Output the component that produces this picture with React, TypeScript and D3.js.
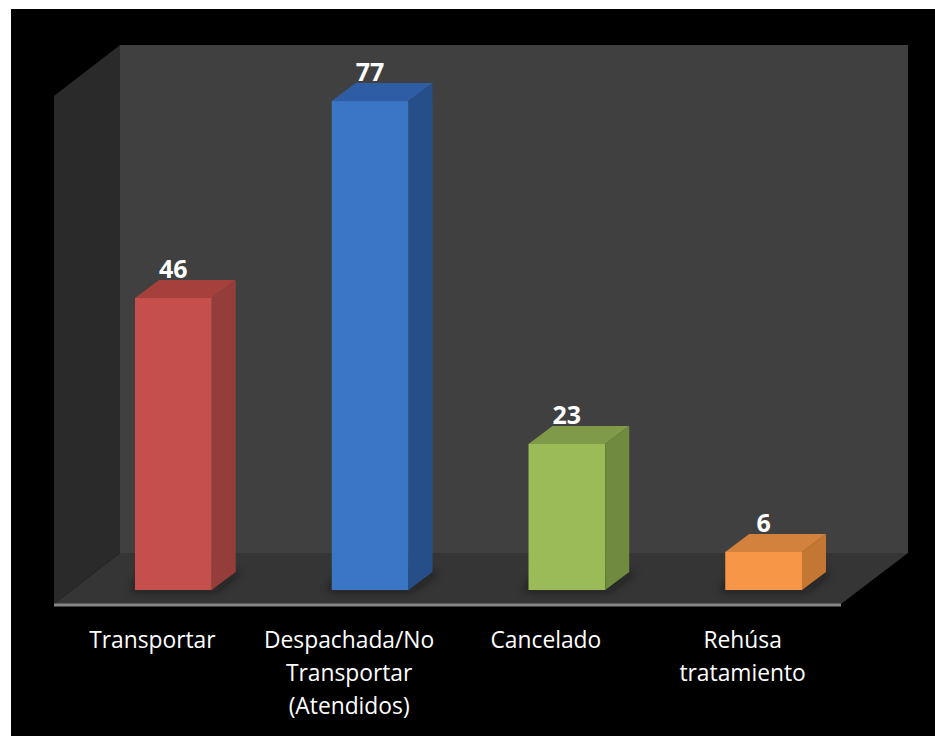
import * as d3 from 'd3';

const categories = ['Transportar', 'Despachada/No Transportar (Atendidos)', 'Cancelado', 'Rehúsa tratamiento'];
const categoryLines = [['Transportar'], ['Despachada/No', 'Transportar', '(Atendidos)'], ['Cancelado'], ['Rehúsa', 'tratamiento']];
const values = [46, 77, 23, 6];
const frontColors = ['#c5504d', '#3a76c4', '#9bbb59', '#f79646'];
const topColors = ['#a5403d', '#2f5da6', '#7f9a48', '#d2823c'];
const sideColors = ['#943d3a', '#27508a', '#708a40', '#c47732'];

const W = 935;
const H = 736;
const FONT = '"Open Sans", Lato, sans-serif';

// chart box in picture coordinates
const PLOT_L = 54;
const PLOT_R = 841;
const FLOOR_Y = 604;
const WALL_DX = 66;
const WALL_DY = 51;
const BAR_BASE = 590;
const BAR_OFFSET = 21;
const BAR_DX = 24;
const BAR_DY = 18;

const yScale = d3.scaleLinear().domain([0, 80]).range([BAR_BASE, 82]);
const wallTop = yScale(80) + (FLOOR_Y - BAR_BASE) - WALL_DY;

// bars sit part way back on the floor, labels stay on the front edge
const xBars = d3
  .scaleBand<string>()
  .domain(categories)
  .range([PLOT_L + BAR_OFFSET, PLOT_R + BAR_OFFSET])
  .paddingInner(0.61)
  .paddingOuter(0.305);
const xLabels = d3.scaleBand<string>().domain(categories).range([PLOT_L, PLOT_R]);

function poly(points: [number, number][]): string {
  return d3.line()(points)! + 'Z';
}

export default function App() {
  const sideTop = wallTop + WALL_DY;
  return (
    <svg
      width={W}
      height={H}
      viewBox={`0 0 ${W} ${H}`}
      style={{ position: 'absolute', left: 0, top: 0, display: 'block', background: '#fff' }}
    >
      <defs>
        <filter id="soft" x="-20%" y="-50%" width="140%" height="200%">
          <feGaussianBlur stdDeviation="5" />
        </filter>
        <filter id="edge" x="-5%" y="-5%" width="110%" height="110%">
          <feGaussianBlur stdDeviation="0.6" />
        </filter>
      </defs>
      <rect x={11} y={9} width={W - 11} height={H - 9} fill="#000" />

      {/* walls and floor */}
      <g filter="url(#edge)">
        <rect
          x={PLOT_L + WALL_DX}
          y={wallTop}
          width={PLOT_R - PLOT_L + 1}
          height={FLOOR_Y - WALL_DY - wallTop}
          fill="#404040"
        />
        <path
          d={poly([
            [PLOT_L, sideTop],
            [PLOT_L + WALL_DX, wallTop],
            [PLOT_L + WALL_DX, FLOOR_Y - WALL_DY],
            [PLOT_L, FLOOR_Y],
          ])}
          fill="#2b2b2b"
        />
        <path
          d={poly([
            [PLOT_L, FLOOR_Y],
            [PLOT_L + WALL_DX, FLOOR_Y - WALL_DY],
            [PLOT_R + WALL_DX + 1, FLOOR_Y - WALL_DY],
            [PLOT_R, FLOOR_Y],
          ])}
          fill="#343434"
        />
        <line x1={PLOT_L} x2={PLOT_R} y1={FLOOR_Y + 1} y2={FLOOR_Y + 1} stroke="#858585" strokeWidth={3} />
      </g>

      {/* bars */}
      {categories.map((c, i) => {
        const x0 = xBars(c)!;
        const x1 = x0 + xBars.bandwidth();
        const y0 = yScale(values[i]);
        return (
          <g key={c}>
            <path
              d={poly([
                [x0 - 6, BAR_BASE + 1],
                [x1 + 4, BAR_BASE + 1],
                [x1 + BAR_DX + 6, BAR_BASE - BAR_DY],
                [x0 + 10, BAR_BASE - BAR_DY],
              ])}
              fill="#111"
              opacity={0.55}
              filter="url(#soft)"
            />
            <g filter="url(#edge)">
              <rect x={x0} y={y0} width={x1 - x0} height={BAR_BASE - y0} fill={frontColors[i]} />
              <path
                d={poly([
                  [x0, y0],
                  [x0 + BAR_DX, y0 - BAR_DY],
                  [x1 + BAR_DX, y0 - BAR_DY],
                  [x1, y0],
                ])}
                fill={topColors[i]}
              />
              <path
                d={poly([
                  [x1, y0],
                  [x1 + BAR_DX, y0 - BAR_DY],
                  [x1 + BAR_DX, BAR_BASE - BAR_DY],
                  [x1, BAR_BASE],
                ])}
                fill={sideColors[i]}
              />
            </g>
            <text
              x={(x0 + x1) / 2}
              y={y0 - 20}
              textAnchor="middle"
              fill="#fff"
              fontFamily={FONT}
              fontWeight={700}
              fontSize={25}
            >
              {values[i]}
            </text>
          </g>
        );
      })}

      {/* category labels */}
      {categories.map((c, i) => (
        <text
          key={c}
          x={xLabels(c)! + xLabels.bandwidth() / 2}
          y={648}
          textAnchor="middle"
          fill="#fff"
          fontFamily={FONT}
          fontSize={22.8}
        >
          {categoryLines[i].map((line, j) => (
            <tspan key={line} x={xLabels(c)! + xLabels.bandwidth() / 2} dy={j === 0 ? 0 : 33}>
              {line}
            </tspan>
          ))}
        </text>
      ))}
    </svg>
  );
}
